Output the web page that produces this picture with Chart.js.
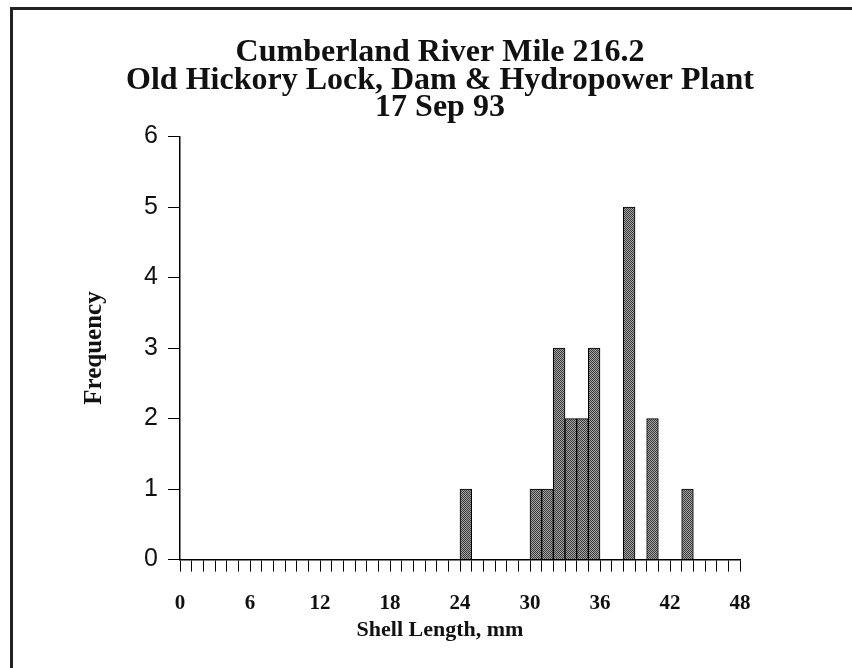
<!DOCTYPE html>
<html>
<head>
<meta charset="utf-8">
<title>Shell Length Frequency</title>
<script src="https://cdn.jsdelivr.net/npm/chart.js@4"></script>
<style>
  body { margin: 0; background: #fff; }
  #wrap { width: 852px; height: 668px; }
</style>
</head>
<body>
<div id="wrap"><canvas id="chart" width="852" height="668"></canvas></div>
<script>
const titleLines = [
  "Cumberland River Mile 216.2",
  "Old Hickory Lock, Dam & Hydropower Plant",
  "17 Sep 93",
];
// lower edge of each 1 mm bin, and count in it
const binStarts = [24, 30, 31, 32, 33, 34, 35, 38, 40, 43];
const frequencies = [1, 1, 1, 3, 2, 2, 3, 5, 2, 1];
const xMin = 0;
const xMax = 48;
const xLabelStep = 6;
const yMax = 6;

const serif = "'Liberation Serif', 'Times New Roman', serif";

// stipple fill for the bars
const makeStipple = () => {
  const c = document.createElement("canvas");
  c.width = 2;
  c.height = 2;
  const g = c.getContext("2d");
  g.fillStyle = "#a6a6a6";
  g.fillRect(0, 0, 2, 2);
  g.fillStyle = "#3a3a3a";
  g.fillRect(0, 0, 1, 1);
  g.fillRect(1, 1, 1, 1);
  return g.createPattern(c, "repeat");
};

// the scanned page border (top and left edges)
const pageFrame = {
  id: "pageFrame",
  beforeDraw(chart) {
    const ctx = chart.ctx;
    ctx.save();
    ctx.strokeStyle = "#222";
    ctx.lineWidth = 3;
    ctx.beginPath();
    ctx.moveTo(11.5, chart.height);
    ctx.lineTo(11.5, 8.5);
    ctx.lineTo(chart.width, 8.5);
    ctx.stroke();
    ctx.restore();
  },
};

const ctx = document.getElementById("chart").getContext("2d");
new Chart(ctx, {
  type: "bar",
  data: {
    datasets: [
      {
        data: binStarts.map((b, i) => ({ x: b + 0.5, y: frequencies[i] })),
        backgroundColor: makeStipple(),
        borderColor: "#000",
        borderWidth: 1,
        barPercentage: 1,
        categoryPercentage: 1,
      },
    ],
  },
  options: {
    responsive: false,
    animation: false,
    layout: { padding: { left: 28, right: 0, top: 0, bottom: 0 } },
    plugins: {
      legend: { display: false },
      tooltip: { enabled: false },
      title: {
        display: true,
        text: titleLines,
        color: "#111",
        font: { family: serif, size: 32, weight: "bold", lineHeight: 0.86 },
        padding: { top: 39, bottom: 15 },
      },
      subtitle: {
        display: true,
        position: "bottom",
        text: "Shell Length, mm",
        color: "#111",
        font: { family: serif, size: 22, weight: "bold", lineHeight: 1.2 },
        padding: { top: 2, bottom: 24 },
      },
    },
    scales: {
      x: {
        type: "linear",
        min: xMin,
        max: xMax,
        offset: false,
        grid: {
          offset: false,
          drawOnChartArea: false,
          drawTicks: true,
          tickLength: 12,
          color: "#000",
          lineWidth: 1,
        },
        border: { display: true, color: "#000", width: 1.5 },
        ticks: {
          stepSize: 1,
          autoSkip: false,
          maxRotation: 0,
          padding: 19,
          color: "#111",
          font: { family: serif, size: 21, weight: "bold" },
          callback: (v) => (v % xLabelStep === 0 ? v : ""),
        },
        afterFit: (s) => {
          s.height = 56;
        },
      },
      y: {
        min: 0,
        max: yMax,
        grid: {
          drawOnChartArea: false,
          drawTicks: true,
          tickLength: 12,
          color: "#000",
          lineWidth: 1,
        },
        border: { display: true, color: "#000", width: 1.5 },
        ticks: {
          stepSize: 1,
          padding: 10,
          color: "#111",
          font: { family: "'Liberation Sans', Arial, sans-serif", size: 25 },
        },
        title: {
          display: true,
          text: "Frequency",
          color: "#111",
          font: { family: serif, size: 25, weight: "bold", lineHeight: 1.2 },
          padding: { top: 52, bottom: 0 },
        },
        afterFit: (s) => {
          s.width = 152;
        },
      },
      // empty axis that only reserves the right margin
      yRight: {
        type: "linear",
        position: "right",
        display: true,
        grid: { display: false },
        border: { display: false },
        ticks: { display: false },
        afterFit: (s) => {
          s.width = 112;
        },
      },
    },
  },
  plugins: [pageFrame],
});
</script>
</body>
</html>
